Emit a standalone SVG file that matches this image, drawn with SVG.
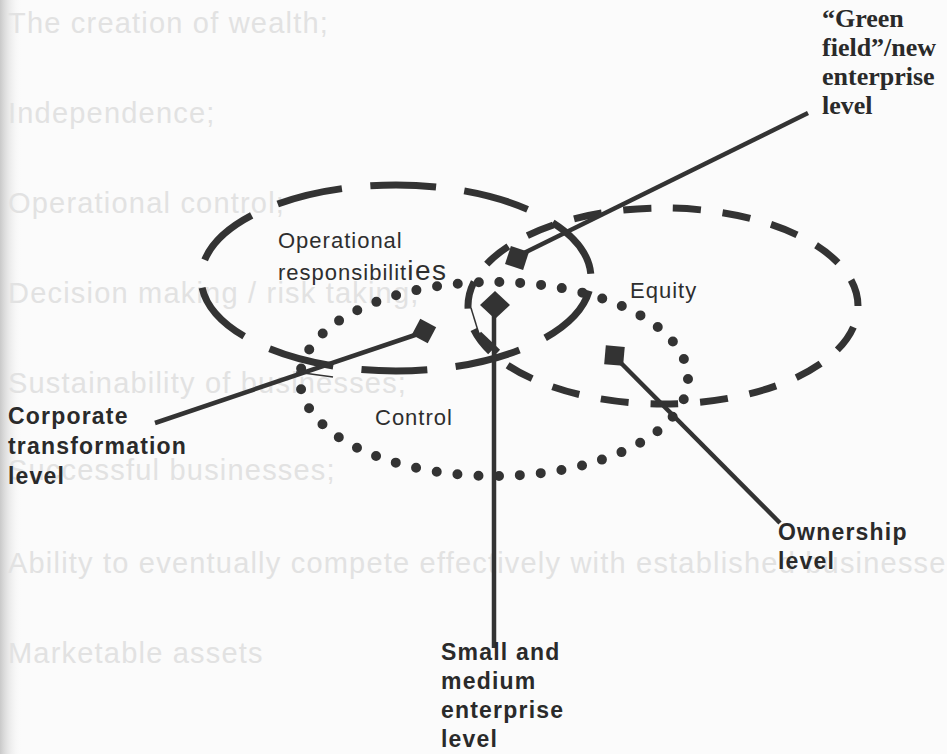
<svg xmlns="http://www.w3.org/2000/svg" width="947" height="754" viewBox="0 0 947 754">
<defs>
<linearGradient id="edge" x1="0" y1="0" x2="1" y2="0">
<stop offset="0" stop-color="#c9c9c9"/>
<stop offset="1" stop-color="#fbfbfb" stop-opacity="0"/>
</linearGradient>
<style>
.ghost{font-family:"Liberation Sans",Arial,sans-serif;font-size:29px;letter-spacing:1.2px;fill:#e2e2e2}
.lab{font-family:"Liberation Sans",Arial,sans-serif;font-size:22px;letter-spacing:1px;fill:#2e2e2e}
.blab{font-family:"Liberation Sans",Arial,sans-serif;font-size:23px;font-weight:bold;letter-spacing:1.2px;fill:#2a2a2a}
.slab{font-family:"Liberation Serif","Times New Roman",serif;font-size:26px;font-weight:bold;fill:#2a2a2a}
.dash1{fill:none;stroke:#333;stroke-width:7;stroke-dasharray:66 28.4;stroke-dashoffset:-13}
.dash2{fill:none;stroke:#333;stroke-width:7;stroke-dasharray:28 21.8;stroke-dashoffset:28}
.dots{fill:none;stroke:#333;stroke-width:10;stroke-linecap:round;stroke-dasharray:0 20.88}
.lead{fill:none;stroke:#333;stroke-width:4.5}
.thin{fill:none;stroke:#333;stroke-width:1.5}
.mark{fill:#333}
</style>
</defs>
<rect width="947" height="754" fill="#fbfbfb"/>
<rect width="22" height="754" fill="url(#edge)"/>

<g id="background-text">
<text class="ghost" x="8" y="33">The creation of wealth;</text>
<text class="ghost" x="8" y="123">Independence;</text>
<text class="ghost" x="8" y="213">Operational control;</text>
<text class="ghost" x="8" y="303">Decision making / risk taking;</text>
<text class="ghost" x="8" y="393">Sustainability of businesses;</text>
<text class="ghost" x="8" y="480">Successful businesses;</text>
<text class="ghost" x="8" y="573">Ability to eventually compete effectively with established businesses</text>
<text class="ghost" x="8" y="663">Marketable assets</text>
</g>

<g id="operational">
<ellipse class="dash1" cx="396" cy="278" rx="195" ry="93"/>
<text class="lab" x="278" y="248">Operational</text>
<text class="lab" x="278" y="280">responsibilit<tspan style="font-size:28px;letter-spacing:1.5px">ies</tspan></text>
</g>

<g id="equity">
<ellipse class="dash2" cx="663" cy="306" rx="195" ry="98"/>
<text class="lab" x="630" y="298">Equity</text>
</g>

<g id="control">
<ellipse class="dots" cx="494" cy="379" rx="194" ry="97"/>
<text class="lab" x="375" y="425">Control</text>
</g>

<g id="connectors">
<line class="lead" x1="524" y1="253" x2="808" y2="113"/>
<line class="lead" x1="418" y1="334" x2="155" y2="423"/>
<line class="lead" x1="494" y1="312" x2="494" y2="648"/>
<line class="lead" x1="618" y1="360" x2="780" y2="523"/>
<line class="thin" x1="296" y1="372" x2="333" y2="377"/>
<line class="thin" x1="471" y1="308" x2="479" y2="334"/>
<line class="lead" x1="479" y1="334" x2="498" y2="352" style="stroke-width:6"/>
</g>

<g id="green-field">
<rect class="mark" x="507.5" y="248.5" width="19" height="19" transform="rotate(18 517 258)"/>
<text class="slab"><tspan x="822" y="27">“Green</tspan><tspan x="822" y="56">field”/new</tspan><tspan x="822" y="85">enterprise</tspan><tspan x="822" y="114">level</tspan></text>
</g>

<g id="corporate">
<rect class="mark" x="415" y="322" width="18" height="18" transform="rotate(28 424 331)"/>
<text class="blab"><tspan x="8" y="424">Corporate</tspan><tspan x="8" y="454">transformation</tspan><tspan x="8" y="484">level</tspan></text>
</g>

<g id="sme">
<polygon class="mark" points="495,291 510,305 495,319 480,305"/>
<text class="blab"><tspan x="441" y="660">Small and</tspan><tspan x="441" y="689">medium</tspan><tspan x="441" y="718">enterprise</tspan><tspan x="441" y="747">level</tspan></text>
</g>

<g id="ownership">
<rect class="mark" x="605" y="346" width="19" height="19" transform="rotate(5 614 355)"/>
<text class="blab"><tspan x="778" y="540">Ownership</tspan><tspan x="778" y="569">level</tspan></text>
</g>
</svg>
